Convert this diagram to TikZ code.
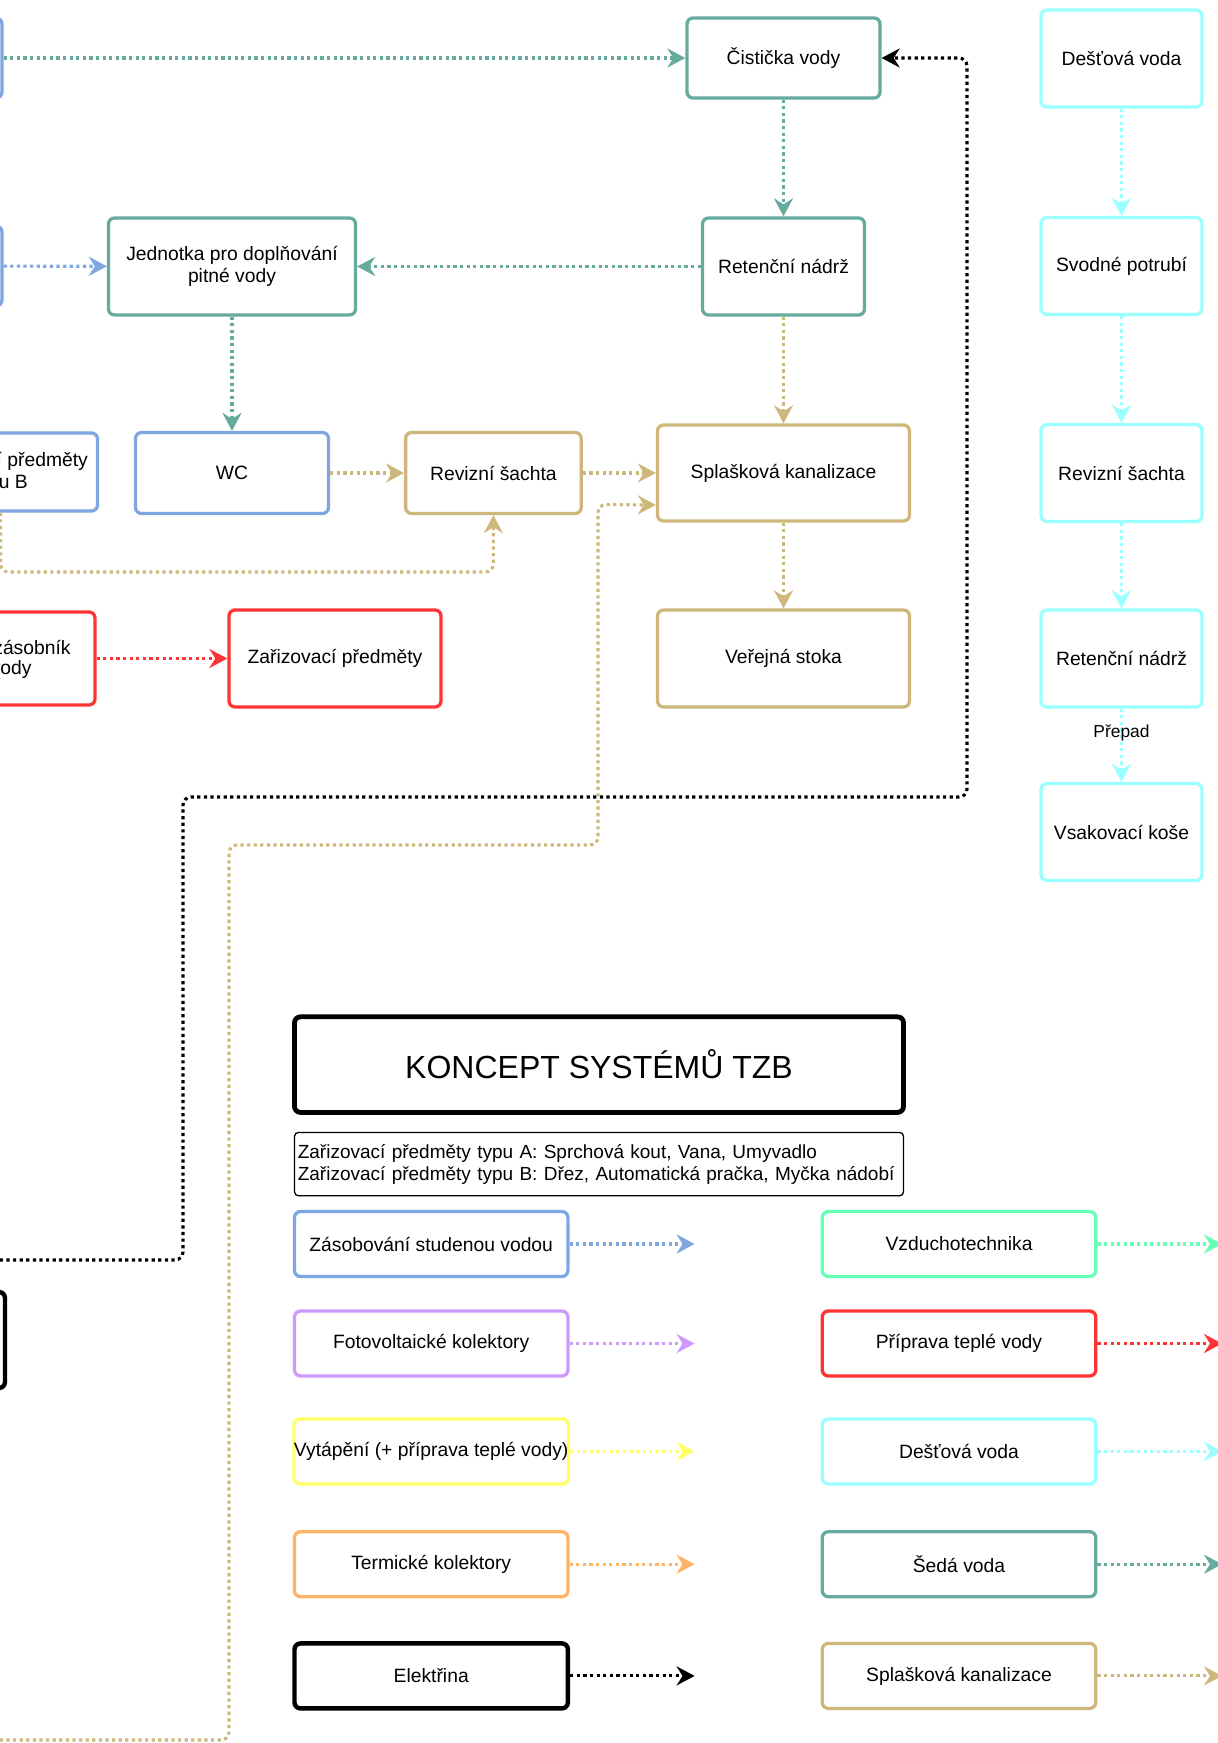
\documentclass[tikz,border=0pt]{standalone}
\usepackage{fontspec}
\setmainfont{Liberation Sans}
\usetikzlibrary{arrows.meta}
\definecolor{cblue}{HTML}{7EA6E0}
\definecolor{cteal}{HTML}{67AB9F}
\definecolor{ctan}{HTML}{CDB77A}
\definecolor{ccyan}{HTML}{99FFFF}
\definecolor{cred}{HTML}{FF3333}
\definecolor{cpurple}{HTML}{CC99FF}
\definecolor{cyellow}{HTML}{FFFF66}
\definecolor{corange}{HTML}{FFB366}
\definecolor{cgreen}{HTML}{66FFB3}
\newcommand\fsA{\fontsize{9.65}{11.1}\selectfont}
\newcommand\fsN{\fontsize{9.5}{11.1}\selectfont}
\newcommand\fsL{\fontsize{8.7}{10}\selectfont}
\newcommand\fsT{\fontsize{16}{19}\selectfont}
\tikzset{
  box/.style={draw=#1, line width=1.65pt, rounded corners=3pt, fill=white, inner sep=0pt, align=center, font=\fsA, text=black},
  flow/.style={draw=#1, line width=1.55pt, dash pattern=on 1.6pt off 1.7pt, rounded corners=4pt, -{Stealth[length=9pt,width=9.5pt,inset=3pt]}},
  sz/.style 2 args={minimum width=#1, minimum height=#2},
}
\begin{document}
\begin{tikzpicture}[x=0.5pt,y=-0.5pt]
\useasboundingbox (0,0) rectangle (1218,1743);
\clip (0,0) rectangle (1218,1743);
\fill[white] (0,0) rectangle (1218,1743);

% upper diagram
\node[box=cblue, sz={96.5pt}{40pt}] (blueA) at (-94.5,58) {};
\node[box=cblue, sz={96.5pt}{40pt}] (blueB) at (-94.5,266) {};
\node[box=cteal, sz={96.5pt}{40pt}] (cist) at (783.5,58) {Čistička vody};
\node[box=cteal, sz={123.5pt}{48.5pt}] (jed) at (232,266.5) {Jednotka pro doplňování\\pitné vody};
\node[box=cteal, sz={81pt}{48.5pt}] (ret) at (783.5,266.5) {Retenční nádrž};
\node[box=ctan, sz={126pt}{48pt}] (spl) at (783.5,473) {Splašková kanalizace};
\node[box=ctan, sz={126pt}{48.5pt}] (ver) at (783.5,658.5) {Veřejná stoka};
\node[box=cblue, sz={97pt}{39pt}] (zpb) at (0.5,472) {Zařizovací předměty\\typu B};
\node[box=cblue, sz={96.5pt}{40.5pt}] (wc) at (232,473) {WC};
\node[box=ctan, sz={87.8pt}{40.5pt}] (rev) at (493.4,473) {Revizní šachta};
\node[box=cred, sz={96.5pt}{46.5pt}] (redA) at (-1.5,658.5) {};
\node[anchor=east, font=\fsA, inner sep=0pt] (zt1) at (71,647) {zásobník};
\node[anchor=east, font=\fsA, inner sep=0pt] (zt2) at (32,670) {vody};
\node[box=cred, sz={106pt}{48.5pt}] (zar) at (335,658.5) {Zařizovací předměty};
\node[box=black, line width=2.2pt, sz={96.5pt}{48pt}] (blk) at (-91.5,1340) {};

\node[box=ccyan, sz={80.5pt}{48.5pt}] (d1) at (1121.5,58.5) {Dešťová voda};
\node[box=ccyan, sz={80.5pt}{48.5pt}] (d2) at (1121.5,266) {Svodné potrubí};
\node[box=ccyan, sz={80.5pt}{48.5pt}] (d3) at (1121.5,473) {Revizní šachta};
\node[box=ccyan, sz={80.5pt}{48.5pt}] (d4) at (1121.5,658.5) {Retenční nádrž};
\node[box=ccyan, sz={80.5pt}{48.5pt}] (d5) at (1121.5,832) {Vsakovací koše};

% connectors
\coordinate (b0) at (-20,1260);
\coordinate (t0) at (-20,1740);
\coordinate (t1) at (493.4,572);
\draw[flow=black] (b0) -| (183,797) -| (967,58) -- (cist.east);
\draw[flow=ctan] (t0) -| (229,845) -| (598,504.5) -- ([yshift=-16pt]spl.west);
\draw[flow=ctan] (zpb.south) |- (t1) -- (rev.south);
\draw[flow=cteal] (blueA) -- (cist);
\draw[flow=cblue] (blueB) -- (jed);
\draw[flow=cteal] (cist) -- (ret);
\draw[flow=cteal] (ret) -- (jed);
\draw[flow=cteal] (jed) -- (wc);
\draw[flow=ctan] (ret) -- (spl);
\draw[flow=ctan] (spl) -- (ver);
\draw[flow=ctan] (wc) -- (rev);
\draw[flow=ctan] (rev) -- (spl);
\draw[flow=cred] (redA) -- (zar);
\draw[flow=ccyan] (d1) -- (d2);
\draw[flow=ccyan] (d2) -- (d3);
\draw[flow=ccyan] (d3) -- (d4);
\draw[flow=ccyan] (d4) -- node[pos=0.33, font=\fsL, inner sep=0pt, text=black] (prepad) {Přepad} (d5);

% legend
\node[box=black, line width=2.4pt, sz={304.5pt}{47.8pt}, font=\fsT] (title) at (599,1064.6) {KONCEPT SYSTÉMŮ TZB};
\node[draw=black, line width=0.65pt, rounded corners=2pt, fill=white, minimum height=31.7pt, text width=301.2pt, inner xsep=1.65pt, inner ysep=0pt, align=left, font=\fsN] (note) at (599,1164.1) {\mbox{Zařizovací předměty typu A: Sprchová kout, Vana, Umyvadlo}\\\mbox{Zařizovací předměty typu B: Dřez, Automatická pračka, Myčka nádobí}};

\node[box=cblue, sz={136.7pt}{32.5pt}] (L1) at (431.2,1244) {Zásobování studenou vodou};
\node[box=cpurple, sz={136.7pt}{32.5pt}] (L2) at (431.2,1343.5) {Fotovoltaické kolektory};
\node[box=cyellow, sz={136.7pt}{32.5pt}] (L3) at (431.2,1451.4) {Vytápění (+ příprava teplé vody)};
\node[box=corange, sz={136.7pt}{32.5pt}] (L4) at (431.2,1564.2) {Termické kolektory};
\node[box=black, line width=2.2pt, sz={136.7pt}{32.5pt}] (L5) at (431.2,1675.9) {Elektřina};

\node[box=cgreen, sz={136.7pt}{32.5pt}] (R1) at (959,1244) {Vzduchotechnika};
\node[box=cred, sz={136.7pt}{32.5pt}] (R2) at (959,1343.5) {Příprava teplé vody};
\node[box=ccyan, sz={136.7pt}{32.5pt}] (R3) at (959,1451.4) {Dešťová voda};
\node[box=cteal, sz={136.7pt}{32.5pt}] (R4) at (959,1564.2) {Šedá voda};
\node[box=ctan, sz={136.7pt}{32.5pt}] (R5) at (959,1675.9) {Splašková kanalizace};

\coordinate (L1e) at (694.6,1244);
\coordinate (L2e) at (694.6,1343.5);
\coordinate (L3e) at (694.6,1451.4);
\coordinate (L4e) at (694.6,1564.2);
\coordinate (L5e) at (694.6,1675.9);
\coordinate (R1e) at (1222,1244);
\coordinate (R2e) at (1222,1343.5);
\coordinate (R3e) at (1222,1451.4);
\coordinate (R4e) at (1222,1564.2);
\coordinate (R5e) at (1222,1675.9);
\draw[flow=cblue] (L1) -- (L1e);
\draw[flow=cpurple] (L2) -- (L2e);
\draw[flow=cyellow] (L3) -- (L3e);
\draw[flow=corange] (L4) -- (L4e);
\draw[flow=black] (L5) -- (L5e);
\draw[flow=cgreen] (R1) -- (R1e);
\draw[flow=cred] (R2) -- (R2e);
\draw[flow=ccyan] (R3) -- (R3e);
\draw[flow=cteal] (R4) -- (R4e);
\draw[flow=ctan] (R5) -- (R5e);
\end{tikzpicture}
\end{document}
